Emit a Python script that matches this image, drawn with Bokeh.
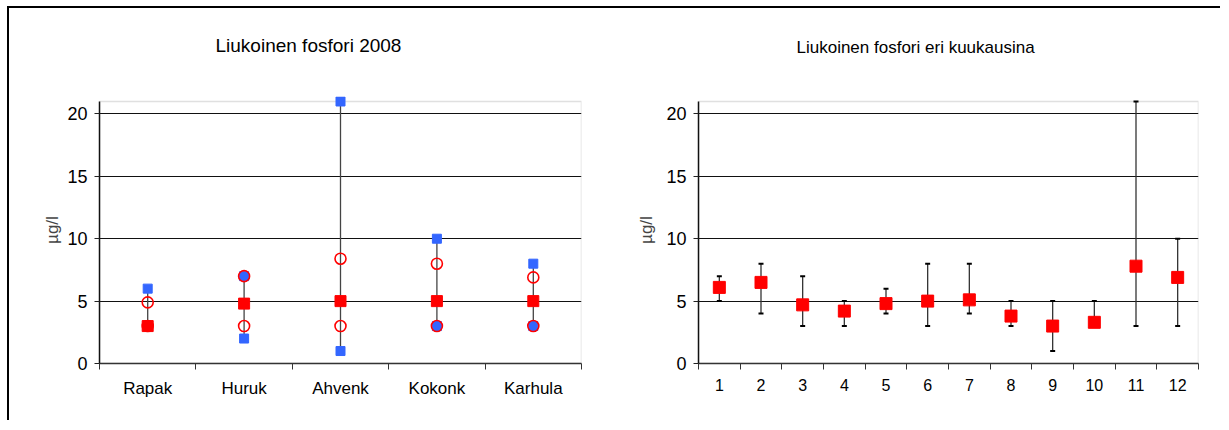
from bokeh.plotting import figure
from bokeh.models import (FactorRange, Range1d, LinearAxis, CategoricalAxis, FixedTicker,
                          ColumnDataSource, Whisker, TeeHead, BoxAnnotation, Title)
from bokeh.layouts import row
from bokeh.embed import file_html
from bokeh.resources import INLINE

# ---- data: left chart (stations, 2008) ----
stations = ["Rapak", "Huruk", "Ahvenk", "Kokonk", "Karhula"]
st_max = [6, 7, 21, 10, 8]
st_min = [3, 2, 1, 3, 3]
st_upper = [4.9, 7, 8.4, 8, 6.9]
st_lower = [3, 3, 3, 3, 3]
st_median = [3, 4.8, 5, 5, 5]

# ---- data: right chart (months) ----
months = ["1", "2", "3", "4", "5", "6", "7", "8", "9", "10", "11", "12"]
m_mean = [6.1, 6.5, 4.7, 4.2, 4.8, 5.0, 5.1, 3.8, 3.0, 3.3, 7.8, 6.9]
m_min = [5, 4, 3, 3, 4, 3, 4, 3, 1, 3, 3, 3]
m_max = [7, 8, 7, 5, 6, 8, 8, 5, 5, 5, 21, 10]

y_ticks = [0, 5, 10, 15, 20]
y_max = 21

FONT = "Liberation Sans"


def make_fig(factors, title, title_size, width, mbl, mbr, mbt, title_offset, spacer,
             label_size, ylabel_standoff):
    p = figure(x_range=FactorRange(factors=factors, range_padding=0),
               y_range=Range1d(0, y_max + 0.4),
               width=width, height=412, output_backend="svg", toolbar_location=None,
               x_axis_location=None, y_axis_location="left",
               min_border_left=mbl, min_border_right=mbr, min_border_top=mbt,
               min_border_bottom=57)
    p.background_fill_color = "white"
    p.border_fill_color = "white"
    p.outline_line_color = None
    p.xgrid.visible = False
    p.ygrid.grid_line_color = "#111111"
    p.ygrid.grid_line_width = 1

    # plot-area border (grey) up to the top of the value scale
    p.add_layout(BoxAnnotation(top=y_max, fill_color=None, line_color="#999999",
                               line_width=1.5, level="underlay"))

    # invisible spacer between the title and the plot area
    p.add_layout(LinearAxis(ticker=FixedTicker(ticks=[0]), axis_line_color=None,
                            major_tick_line_color=None, minor_tick_line_color=None,
                            major_tick_out=spacer, major_tick_in=0,
                            major_label_text_color=None, major_label_text_font_size="1px",
                            major_label_standoff=0), "above")

    p.add_layout(Title(text=title, text_font=FONT, text_font_size=title_size,
                       text_font_style="normal", text_color="black", align="left",
                       offset=title_offset, standoff=20), "above")

    ya = p.yaxis[0]
    ya.ticker = FixedTicker(ticks=y_ticks)
    ya.bounds = (0, y_max)
    ya.minor_tick_line_color = None
    ya.major_tick_out = 5
    ya.major_tick_in = 0
    ya.major_tick_line_color = "#222222"
    ya.axis_line_color = "#111111"
    ya.axis_line_width = 1.5
    ya.major_label_text_font = FONT
    ya.major_label_text_font_size = "18px"
    ya.major_label_text_color = "black"
    ya.major_label_standoff = 7
    ya.axis_label = "µg/l"
    ya.axis_label_text_font = FONT
    ya.axis_label_text_font_size = "17px"
    ya.axis_label_text_font_style = "normal"
    ya.axis_label_standoff = ylabel_standoff

    # tick marks at category boundaries (synthetic coordinates 0..n of the factor range)
    edge_axis = LinearAxis(ticker=FixedTicker(ticks=list(range(len(factors) + 1))),
                           major_label_text_font_size="1px", major_label_text_color=None,
                           major_label_standoff=0,
                           major_tick_out=6, major_tick_in=0, minor_tick_line_color=None,
                           axis_line_color="#333333", axis_line_width=1.5,
                           major_tick_line_color="#333333")
    p.add_layout(edge_axis, "below")
    cat_axis = CategoricalAxis(axis_line_color=None, major_tick_line_color=None,
                               major_tick_out=0, major_tick_in=0, major_label_standoff=9,
                               major_label_text_font=FONT, major_label_text_font_size=label_size,
                               major_label_text_color="black")
    p.add_layout(cat_axis, "below")
    return p


# ---- left chart ----
p1 = make_fig(stations, "Liukoinen fosfori 2008", "19px", 625, 90, 53, 88, 116, 31, "17px", 2)
src1 = ColumnDataSource(dict(st=stations, mx=st_max, mn=st_min, up=st_upper,
                             lo=st_lower, md=st_median))
p1.segment(x0="st", y0="mn", x1="st", y1="mx", source=src1, line_color="#444444", line_width=1.3)
p1.scatter("st", "mx", source=src1, marker="square", size=9, color="#3366ff")
p1.scatter("st", "mn", source=src1, marker="square", size=9, color="#3366ff")
p1.scatter("st", "up", source=src1, marker="circle", size=11, fill_color=None,
           line_color="#ff0000", line_width=1.6)
p1.scatter("st", "lo", source=src1, marker="circle", size=11, fill_color=None,
           line_color="#ff0000", line_width=1.6)
p1.scatter("st", "md", source=src1, marker="square", size=11, color="#ff0000")

# ---- right chart ----
p2 = make_fig(months, "Liukoinen fosfori eri kuukausina", "17px", 586, 63, 22, 83, 98, 30,
              "16px", 7)
src2 = ColumnDataSource(dict(month=months, mean=m_mean, lo=m_min, hi=m_max))
wh = Whisker(base="month", lower="lo", upper="hi", source=src2, dimension="height",
             line_color="#333333", line_width=1.3, level="underlay",
             upper_head=TeeHead(size=5, line_width=2, line_color="black"),
             lower_head=TeeHead(size=5, line_width=2, line_color="black"))
p2.add_layout(wh)
p2.scatter("month", "mean", source=src2, marker="square", size=12, color="#ff0000")

layout = row(p1, p2, styles={"border-top": "2px solid black", "border-left": "2px solid black",
                             "margin-left": "7px", "margin-top": "6px"})

open("out.html", "w").write(file_html(layout, INLINE))
